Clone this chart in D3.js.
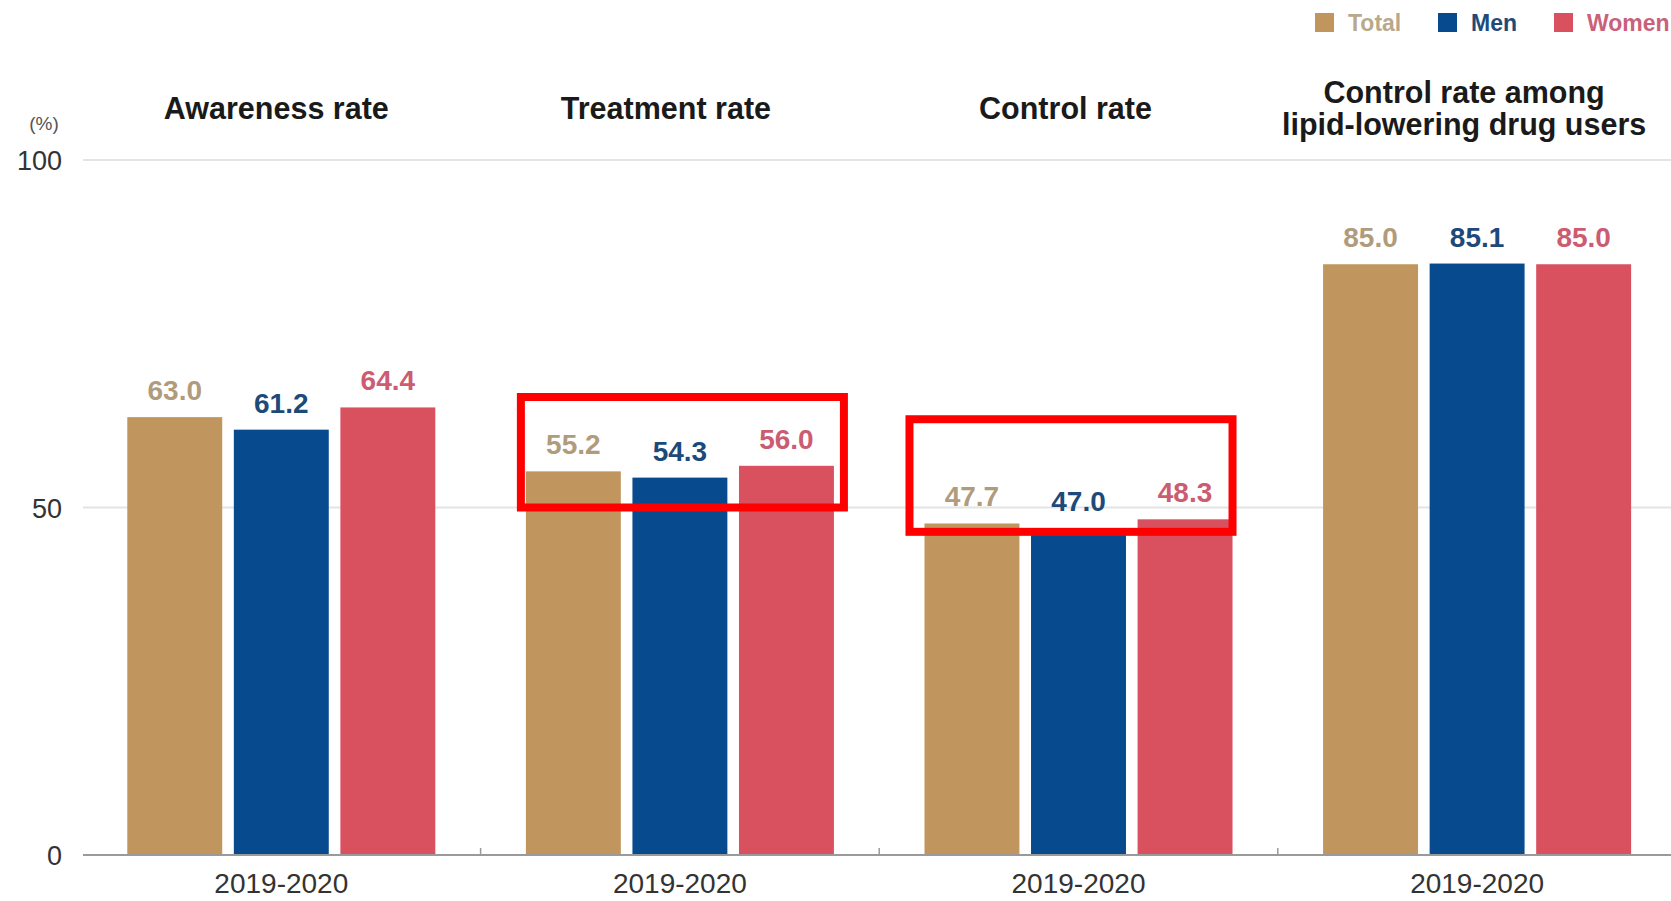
<!DOCTYPE html>
<html>
<head>
<meta charset="utf-8">
<script src="https://cdn.jsdelivr.net/npm/d3@7/dist/d3.min.js"></script>
<style>
  html, body { margin: 0; padding: 0; background: #fff; overflow: hidden; }
  svg { display: block; font-family: "Liberation Sans", Arial, Helvetica, sans-serif; }
</style>
</head>
<body>
<svg id="chart" width="1671" height="901"></svg>
<script>
// ---- data ----
const groups = ["Awareness rate", "Treatment rate", "Control rate", "Control rate among lipid-lowering drug users"];
const groupTitleLines = [["Awareness rate"], ["Treatment rate"], ["Control rate"], ["Control rate among", "lipid-lowering drug users"]];
const periodLabels = ["2019-2020", "2019-2020", "2019-2020", "2019-2020"];
const seriesNames = ["Total", "Men", "Women"];
const totalValues = [63.0, 55.2, 47.7, 85.0];
const menValues = [61.2, 54.3, 47.0, 85.1];
const womenValues = [64.4, 56.0, 48.3, 85.0];
const yTickValues = [0, 50, 100];
const yUnitLabel = "(%)";
// highlighted groups (annotation boxes), value extents
const highlightGroups = ["Treatment rate", "Control rate"];
const highlightTop = [65.9, 62.7];
const highlightBottom = [50.0, 46.5];

// ---- styles / layout ----
const barColors = { Total: "#C1955E", Men: "#074A8D", Women: "#D9515F" };
const labelColors = { Total: "#B09C7C", Men: "#1D4A78", Women: "#CB5C71" };
const legendTextColors = { Total: "#B9A98C", Men: "#1E4B7A", Women: "#C9617A" };
const titleDx = [-5, -14, -13, -13];
const boxDx = [[-5, 10], [-15, 0]];

const svg = d3.select("#chart");
const W = 1671, H = 901;
const plotLeft = 82, plotRight = 1676.4, yTop = 160, yBottom = 855;

const seriesValues = { Total: totalValues, Men: menValues, Women: womenValues };

const x0 = d3.scaleBand().domain(groups).range([plotLeft, plotRight]).paddingInner(0).paddingOuter(0);
const x1 = d3.scaleBand().domain(seriesNames).range([0, x0.bandwidth()]).paddingInner(0.109).paddingOuter(0.425);
const y = d3.scaleLinear().domain([0, 100]).range([yBottom, yTop]);

// gridlines
const grid = svg.append("g");
grid.selectAll("line").data(yTickValues.filter(d => d !== 0)).join("line")
  .attr("x1", 83).attr("x2", W)
  .attr("y1", d => y(d)).attr("y2", d => y(d))
  .attr("stroke", "#e4e4e4").attr("stroke-width", 2);

// y axis labels
const yAxis = d3.axisLeft(y).tickValues(yTickValues).tickSize(0).tickPadding(0).tickFormat(d3.format("d"));
const yg = svg.append("g").attr("transform", "translate(62,0)").call(yAxis);
yg.select(".domain").remove();
yg.selectAll("text").attr("font-size", 27).attr("fill", "#333").attr("font-family", "Liberation Sans, Arial, sans-serif").attr("dy", "0.36em");

svg.append("text").attr("x", 44).attr("y", 130).attr("text-anchor", "middle")
  .attr("font-size", 19).attr("fill", "#555").text(yUnitLabel);

// bars
const data = groups.map((g, i) => ({ group: g, i, vals: seriesNames.map(s => ({ s, v: seriesValues[s][i] })) }));
const gg = svg.append("g").selectAll("g").data(data).join("g")
  .attr("transform", d => `translate(${x0(d.group)},0)`);

gg.selectAll("rect").data(d => d.vals).join("rect")
  .attr("x", d => x1(d.s)).attr("width", x1.bandwidth())
  .attr("y", d => y(d.v)).attr("height", d => y(0) - y(d.v))
  .attr("fill", d => barColors[d.s]);

gg.selectAll("text.val").data(d => d.vals).join("text").attr("class", "val")
  .attr("x", d => x1(d.s) + x1.bandwidth() / 2)
  .attr("y", d => y(d.v) - 17)
  .attr("text-anchor", "middle").attr("font-size", 28).attr("font-weight", "bold")
  .attr("fill", d => labelColors[d.s])
  .text(d => d3.format(".1f")(d.v));

// baseline
svg.append("line").attr("x1", 83).attr("x2", W).attr("y1", y(0)).attr("y2", y(0))
  .attr("stroke", "#9a9a9a").attr("stroke-width", 2);

// group separator ticks
svg.append("g").selectAll("line").data(groups.slice(1)).join("line")
  .attr("x1", d => x0(d)).attr("x2", d => x0(d))
  .attr("y1", y(0) - 7).attr("y2", y(0))
  .attr("stroke", "#9a9a9a").attr("stroke-width", 1.5);

// x labels
svg.append("g").selectAll("text").data(groups).join("text")
  .attr("x", d => x0(d) + x0.bandwidth() / 2).attr("y", 893)
  .attr("text-anchor", "middle").attr("font-size", 28).attr("fill", "#333")
  .text((d, i) => periodLabels[i]);

// group titles
const tg = svg.append("g").selectAll("text").data(groups).join("text")
  .attr("text-anchor", "middle").attr("font-size", 30.5).attr("font-weight", "bold").attr("fill", "#1a1a1a")
  .attr("transform", (d, i) => `translate(${x0(d) + x0.bandwidth() / 2 + titleDx[i]},0)`);
tg.each(function (d, i) {
  const lines = groupTitleLines[i];
  const base = lines.length === 1 ? 119 : 103;
  d3.select(this).selectAll("tspan").data(lines).join("tspan")
    .attr("x", 0).attr("y", (l, j) => base + j * 32).text(l => l);
});

// legend
const legendX = [1315, 1438, 1554];
const lg = svg.append("g").selectAll("g").data(seriesNames).join("g")
  .attr("transform", (d, i) => `translate(${legendX[i]},13)`);
lg.append("rect").attr("width", 19).attr("height", 19).attr("fill", d => barColors[d]);
lg.append("text").attr("x", 33).attr("y", 17.5).attr("font-size", 23).attr("font-weight", "bold")
  .attr("fill", d => legendTextColors[d]).text(d => d);

// annotation boxes
svg.append("g").selectAll("rect").data(highlightGroups).join("rect")
  .attr("x", (d, i) => x0(d) + x1("Total") + boxDx[i][0])
  .attr("width", (d, i) => (x1("Women") + x1.bandwidth() + boxDx[i][1]) - (x1("Total") + boxDx[i][0]))
  .attr("y", (d, i) => y(highlightTop[i]))
  .attr("height", (d, i) => y(highlightBottom[i]) - y(highlightTop[i]))
  .attr("fill", "none").attr("stroke", "#ff0000").attr("stroke-width", 8);
</script>
</body>
</html>
